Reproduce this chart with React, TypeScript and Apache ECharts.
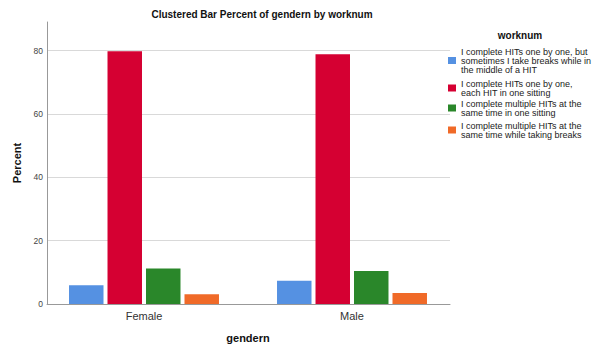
import React, { useEffect, useRef } from "react";
import * as echarts from "echarts";

const categories = ["Female", "Male"];
const seriesNames = [
  "I complete HITs one by one, but sometimes I take breaks while in the middle of a HIT",
  "I complete HITs one by one, each HIT in one sitting",
  "I complete multiple HITs at the same time in one sitting",
  "I complete multiple HITs at the same time while taking breaks",
];
const legendLabels = [
  "I complete HITs one by one, but\nsometimes I take breaks while in\nthe middle of a HIT",
  "I complete HITs one by one,\neach HIT in one sitting",
  "I complete multiple HITs at the\nsame time in one sitting",
  "I complete multiple HITs at the\nsame time while taking breaks",
];
const breaksWithinHit = [5.9, 7.3];
const oneBySitting = [79.8, 78.8];
const multipleOneSitting = [11.2, 10.4];
const multipleWithBreaks = [3.1, 3.5];
const seriesValues = [breaksWithinHit, oneBySitting, multipleOneSitting, multipleWithBreaks];
const colors = ["#5591e2", "#d50032", "#2a872a", "#f06a28"];
const yTicks = [0, 20, 40, 60, 80];

const FONT = "'Liberation Sans', Arial, sans-serif";

export default function App() {
  const ref = useRef<HTMLDivElement>(null);
  useEffect(() => {
    if (!ref.current) return;
    const chart = echarts.init(ref.current, undefined, { renderer: "svg" });
    const legendTops = [47, 79, 99, 121];
    const option: any = {
      animation: false,
      backgroundColor: "#ffffff",
      textStyle: { fontFamily: FONT },
      title: [
        {
          text: "Clustered Bar Percent of gendern by worknum",
          left: 262,
          top: 9,
          textAlign: "center",
          padding: 0,
          textStyle: { fontFamily: FONT, fontSize: 10, fontWeight: "bold", color: "#111" },
        },
        {
          text: "worknum",
          left: 520,
          top: 30,
          textAlign: "center",
          padding: 0,
          textStyle: { fontFamily: FONT, fontSize: 10, fontWeight: "bold", color: "#111" },
        },
      ],
      legend: seriesNames.map((n, i) => ({
        data: [n],
        orient: "vertical",
        left: 448,
        top: legendTops[i],
        padding: 0,
        itemWidth: 8,
        itemHeight: 7,
        icon: "rect",
        selectedMode: false,
        formatter: () => legendLabels[i],
        textStyle: { fontFamily: FONT, fontSize: 9, lineHeight: 9, color: "#222" },
      })),
      grid: [
        { left: 47, right: 150, top: 22, bottom: 50 },
        { left: 40, right: 144, top: 22, bottom: 50 },
      ],
      xAxis: [
        {
          type: "value",
          gridIndex: 0,
          min: 0,
          max: 1,
          axisLine: { show: true, lineStyle: { color: "#999", width: 1 } },
          axisTick: { show: false },
          axisLabel: { show: false },
          splitLine: { show: false },
        },
        {
          type: "category",
          gridIndex: 1,
          data: categories,
          axisLine: { show: false },
          axisTick: { show: false },
          axisLabel: { fontFamily: FONT, fontSize: 11, color: "#333", margin: 6 },
          name: "gendern",
          nameLocation: "middle",
          nameGap: 28,
          nameTextStyle: { fontFamily: FONT, fontSize: 11, fontWeight: "bold", color: "#111" },
        },
      ],
      yAxis: [
        {
          type: "value",
          gridIndex: 0,
          min: 0,
          max: 89,
          interval: 20,
          axisLine: { show: true, lineStyle: { color: "#999", width: 1 } },
          axisTick: { show: false },
          axisLabel: {
            fontFamily: FONT,
            fontSize: 8.5,
            color: "#444",
            margin: 4,
            showMaxLabel: false,
            formatter: (v: number) => (yTicks.includes(v) ? String(v) : ""),
          },
          splitLine: {
            show: true,
            showMinLine: false,
            showMaxLine: false,
            lineStyle: { color: "#d9d9d9", width: 1 },
          },
          name: "Percent",
          nameLocation: "middle",
          nameGap: 22,
          nameTextStyle: { fontFamily: FONT, fontSize: 11, fontWeight: "bold", color: "#111" },
        },
        {
          type: "value",
          gridIndex: 1,
          min: 0,
          max: 89,
          show: false,
          splitLine: { show: false },
        },
      ],
      series: seriesNames.map((n, i) => ({
        name: n,
        type: "bar",
        xAxisIndex: 1,
        yAxisIndex: 1,
        data: seriesValues[i],
        barCategoryGap: "27.9%",
        barGap: "11.6%",
        itemStyle: { color: colors[i] },
        z: 1,
      })),
    };
    chart.setOption(option);
    return () => chart.dispose();
  }, []);
  return (
    <div
      ref={ref}
      style={{ position: "fixed", left: 0, top: 0, width: 600, height: 354, background: "#fff" }}
    />
  );
}
